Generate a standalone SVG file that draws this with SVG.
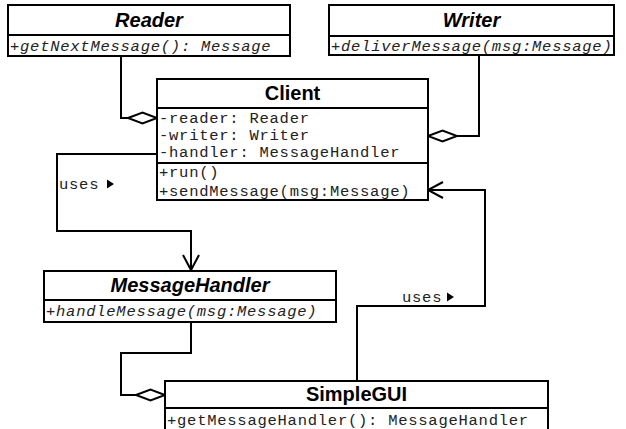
<svg xmlns="http://www.w3.org/2000/svg" width="626" height="429" viewBox="0 0 626 429">
<style>
.box{fill:#fff;stroke:#000;stroke-width:2}
.ln{fill:none;stroke:#000;stroke-width:2}
.title{font-family:"Liberation Sans",Arial,sans-serif;font-size:20px;font-weight:bold;text-anchor:middle;fill:#000}
.abs{font-style:italic}
.mono{font-family:"Liberation Mono","Courier New",monospace;font-size:15.5px;letter-spacing:0.75px;fill:#222}
.it{font-style:italic}
.dia{fill:#fff;stroke:#000;stroke-width:2}
</style>
<rect width="626" height="429" fill="#fff"/>
<g id="connectors">
  <polyline class="ln" points="121,56 121,118 128,118"/>
  <polygon class="dia" points="128,118 142.5,112.5 157,118 142.5,123.5"/>
  <polyline class="ln" points="479,55 479,136 457,136"/>
  <polygon class="dia" points="428,136 442.5,130.5 457,136 442.5,141.5"/>
  <polyline class="ln" points="157,154 57,154 57,231 191,231 191,270"/>
  <polyline class="ln" points="183,255 191,270 199,255"/>
  <polyline class="ln" points="191,322 191,353 121,353 121,395 136,395"/>
  <polygon class="dia" points="136,395 150.5,389.5 165,395 150.5,400.5"/>
  <polyline class="ln" points="357,381 357,306 485,306 485,190 428,190"/>
  <polyline class="ln" points="443,182 428,190 443,198"/>
  <text class="mono" x="59" y="189">uses</text>
  <polygon points="107,179.5 114,184 107,188.5" fill="#000"/>
  <text class="mono" x="402" y="302">uses</text>
  <polygon points="447,292.5 454,297 447,301.5" fill="#000"/>
</g>
<g id="Reader">
  <rect class="box" x="8" y="5" width="282" height="51"/>
  <line class="ln" x1="8" y1="35" x2="290" y2="35"/>
  <text class="title abs" x="149" y="27">Reader</text>
  <text class="mono it" x="10" y="51">+getNextMessage(): Message</text>
</g>
<g id="Writer">
  <rect class="box" x="329" y="5" width="285" height="50"/>
  <line class="ln" x1="329" y1="36" x2="614" y2="36"/>
  <text class="title abs" x="471.5" y="27">Writer</text>
  <text class="mono it" x="331" y="51">+deliverMessage(msg:Message)</text>
</g>
<g id="Client">
  <rect class="box" x="157" y="79" width="271" height="121"/>
  <line class="ln" x1="157" y1="108" x2="428" y2="108"/>
  <line class="ln" x1="157" y1="163" x2="428" y2="163"/>
  <text class="title" x="292.5" y="100">Client</text>
  <text class="mono" x="159" y="123">-reader: Reader</text>
  <text class="mono" x="159" y="140">-writer: Writer</text>
  <text class="mono" x="159" y="157">-handler: MessageHandler</text>
  <text class="mono" x="159" y="177">+run()</text>
  <text class="mono" x="159" y="196">+sendMessage(msg:Message)</text>
</g>
<g id="MessageHandler">
  <rect class="box" x="44" y="271" width="292" height="51"/>
  <line class="ln" x1="44" y1="300" x2="336" y2="300"/>
  <text class="title abs" x="190" y="292">MessageHandler</text>
  <text class="mono it" x="46" y="316">+handleMessage(msg:Message)</text>
</g>
<g id="SimpleGUI">
  <rect class="box" x="165" y="381" width="383" height="60"/>
  <line class="ln" x1="165" y1="408" x2="548" y2="408"/>
  <text class="title" x="356.5" y="401">SimpleGUI</text>
  <text class="mono" x="167" y="425">+getMessageHandler(): MessageHandler</text>
</g>
</svg>
